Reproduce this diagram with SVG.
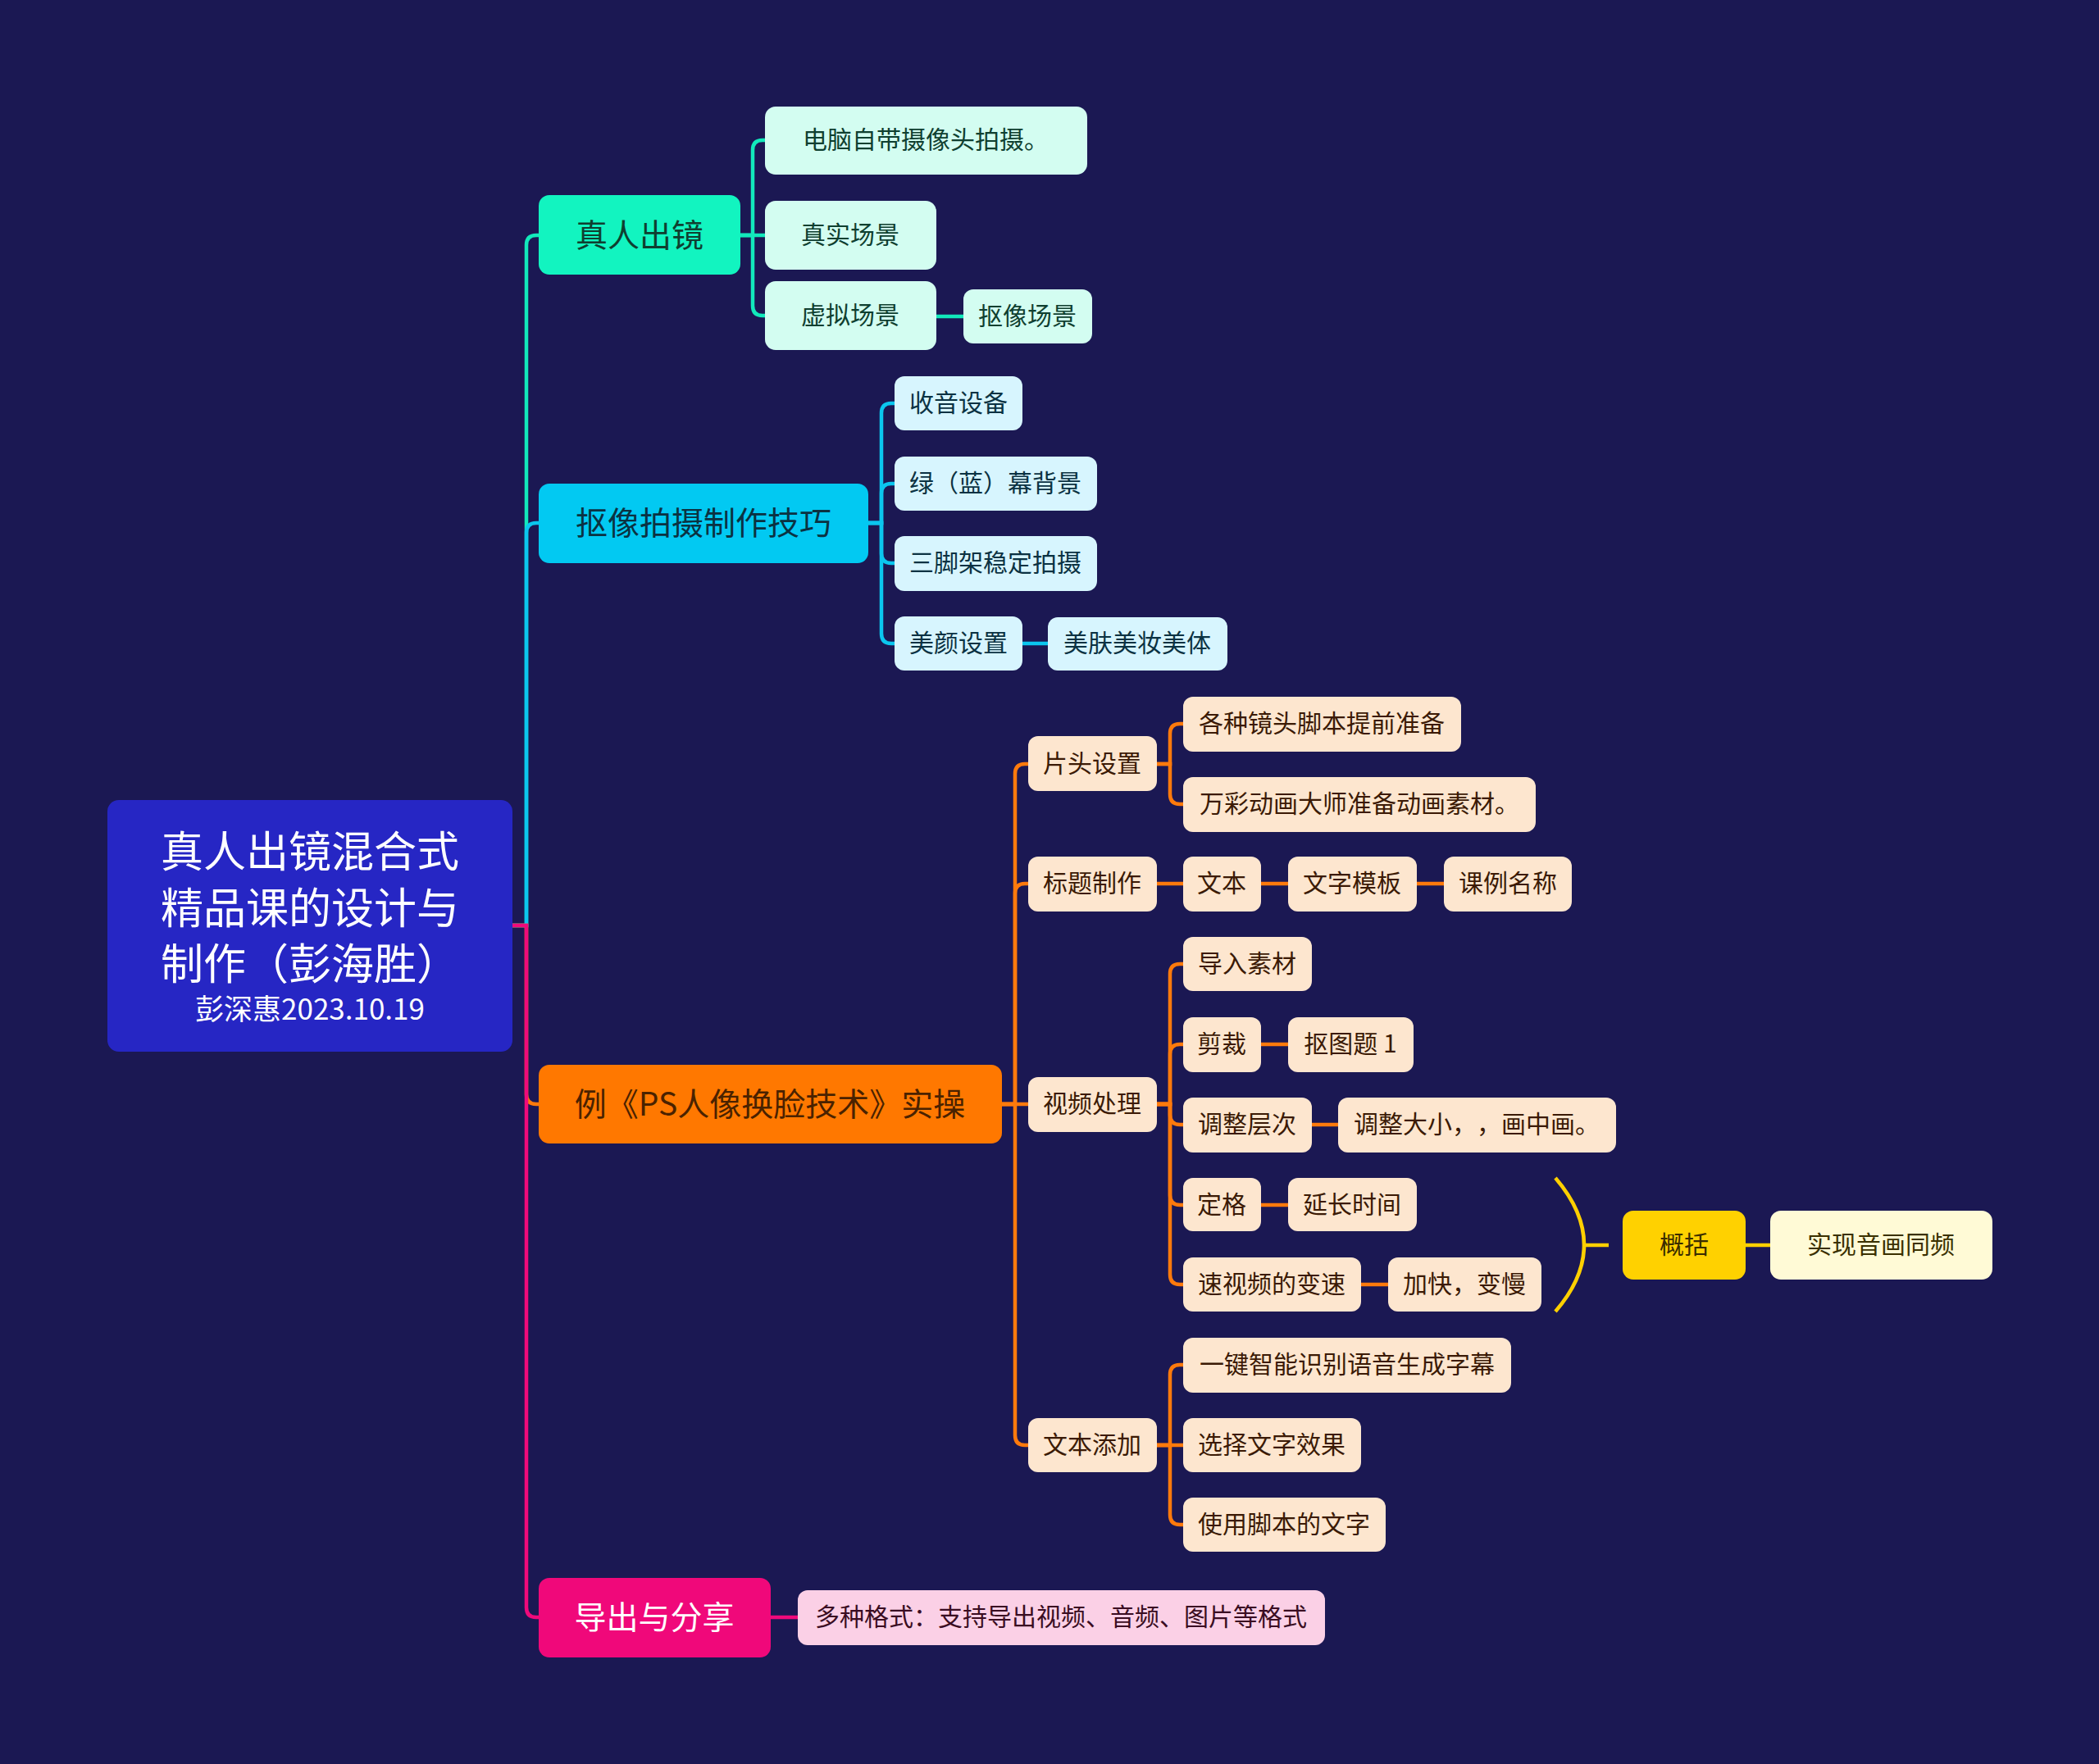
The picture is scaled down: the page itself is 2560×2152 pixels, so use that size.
<svg xmlns="http://www.w3.org/2000/svg" width="2560" height="2152" viewBox="0 0 2560 2152">
<style>
text{font-family:"Noto Sans CJK SC","Noto Sans",sans-serif;text-anchor:middle;dominant-baseline:central;text-spacing-trim:space-all;transform:translateY(-3px)}
.l1{font-size:39px}
.l2{font-size:30px}
.c{fill:none;stroke-width:4.5;stroke-linecap:butt}
.teal{stroke:#12e9bb}.cyan{stroke:#0bc6ee}.orange{stroke:#ff7a0c}.pink{stroke:#ef0a7b}.yellow{stroke:#ffd000}
.fT{fill:#12f4c0}.fC{fill:#02c9f2}.fO{fill:#ff7800}.fP{fill:#f0087a}
.cT{fill:#d3fdf1}.cC{fill:#d7f5fe}.cO{fill:#fde6cf}.cP{fill:#fbd0e6}
.tT{fill:#0f3f30}.tC{fill:#0b3242}.tO{fill:#3b1a05}.tP{fill:#3a0d22}
</style>
<rect width="2560" height="2152" fill="#1b1853"/>
<g id="connectors">
<path class="c teal" d="M625 1129 H642 V299 Q642 287 654 287 H657"/>
<path class="c cyan" d="M625 1129 H642 V650 Q642 638 654 638 H657"/>
<path class="c orange" d="M625 1129 H642 V1335 Q642 1347 654 1347 H657"/>
<path class="c pink" d="M625 1129 H642 V1961 Q642 1973 654 1973 H657"/>
<path class="c teal" d="M903 287 H918 V183 Q918 171 930 171 H933"/>
<path class="c teal" d="M903 287 H933"/>
<path class="c teal" d="M903 287 H918 V373 Q918 385 930 385 H933"/>
<path class="c teal" d="M1142 386 H1175"/>
<path class="c cyan" d="M1059 638 H1075 V504 Q1075 492 1087 492 H1091"/>
<path class="c cyan" d="M1059 638 H1075 V602 Q1075 590 1087 590 H1091"/>
<path class="c cyan" d="M1059 638 H1075 V675 Q1075 687 1087 687 H1091"/>
<path class="c cyan" d="M1059 638 H1075 V773 Q1075 785 1087 785 H1091"/>
<path class="c cyan" d="M1247 785 H1278"/>
<path class="c orange" d="M1222 1347 H1238 V944 Q1238 932 1250 932 H1254"/>
<path class="c orange" d="M1222 1347 H1238 V1090 Q1238 1078 1250 1078 H1254"/>
<path class="c orange" d="M1222 1347 H1254"/>
<path class="c orange" d="M1222 1347 H1238 V1751 Q1238 1763 1250 1763 H1254"/>
<path class="c orange" d="M1411 932 H1427 V895 Q1427 883 1439 883 H1443"/>
<path class="c orange" d="M1411 932 H1427 V969 Q1427 981 1439 981 H1443"/>
<path class="c orange" d="M1411 1078 H1443"/>
<path class="c orange" d="M1538 1078 H1571"/>
<path class="c orange" d="M1728 1078 H1761"/>
<path class="c orange" d="M1411 1347 H1427 V1188 Q1427 1176 1439 1176 H1443"/>
<path class="c orange" d="M1411 1347 H1427 V1286 Q1427 1274 1439 1274 H1443"/>
<path class="c orange" d="M1411 1347 H1427 V1360 Q1427 1372 1439 1372 H1443"/>
<path class="c orange" d="M1411 1347 H1427 V1458 Q1427 1470 1439 1470 H1443"/>
<path class="c orange" d="M1411 1347 H1427 V1555 Q1427 1567 1439 1567 H1443"/>
<path class="c orange" d="M1538 1274 H1571"/>
<path class="c orange" d="M1600 1372 H1632"/>
<path class="c orange" d="M1538 1470 H1571"/>
<path class="c orange" d="M1660 1567 H1693"/>
<path class="c orange" d="M1411 1763 H1427 V1677 Q1427 1665 1439 1665 H1443"/>
<path class="c orange" d="M1411 1763 H1443"/>
<path class="c orange" d="M1411 1763 H1427 V1848 Q1427 1860 1439 1860 H1443"/>
<path class="c pink" d="M940 1973 H973"/>
<path class="c yellow" d="M1897 1437 Q1967 1519 1897 1600"/>
<path class="c yellow" d="M1932 1519 H1962"/>
<path class="c yellow" d="M2129 1519 H2159"/>
</g>
<g id="root">
<rect x="131" y="976" width="494" height="307" rx="14" fill="#2626c4"/>
<text x="378" y="1038" font-size="52" fill="#ffffff">真人出镜混合式</text>
<text x="378" y="1107" font-size="52" fill="#ffffff">精品课的设计与</text>
<text x="378" y="1175" font-size="52" fill="#ffffff">制作（彭海胜）</text>
<text x="378" y="1231" font-size="35" fill="#ffffff">彭深惠2023.10.19</text>
</g>
<g id="n1"><rect class="fT" x="657" y="238" width="246" height="97" rx="13"/><text class="l1 tT" x="780" y="287">真人出镜</text></g>
<g id="n2"><rect class="fC" x="657" y="590" width="402" height="97" rx="13"/><text class="l1 tC" x="858" y="638">抠像拍摄制作技巧</text></g>
<g id="n3"><rect class="fO" x="657" y="1299" width="565" height="96" rx="13"/><text class="l1" fill="#4a2200" x="939" y="1347">例《PS人像换脸技术》实操</text></g>
<g id="n4"><rect class="fP" x="657" y="1925" width="283" height="97" rx="13"/><text class="l1" fill="#ffffff" x="798" y="1973">导出与分享</text></g>
<g id="n1a"><rect class="cT" x="933" y="130" width="393" height="83" rx="13"/><text class="l2 tT" x="1129" y="171">电脑自带摄像头拍摄。</text></g>
<g id="n1b"><rect class="cT" x="933" y="245" width="209" height="84" rx="13"/><text class="l2 tT" x="1037" y="287">真实场景</text></g>
<g id="n1c"><rect class="cT" x="933" y="343" width="209" height="84" rx="13"/><text class="l2 tT" x="1037" y="385">虚拟场景</text></g>
<g id="n1c1"><rect class="cT" x="1175" y="353" width="157" height="66" rx="12"/><text class="l2 tT" x="1253" y="386">抠像场景</text></g>
<g id="n2a"><rect class="cC" x="1091" y="459" width="156" height="66" rx="12"/><text class="l2 tC" x="1169" y="492">收音设备</text></g>
<g id="n2b"><rect class="cC" x="1091" y="557" width="247" height="66" rx="12"/><text class="l2 tC" x="1214" y="590">绿（蓝）幕背景</text></g>
<g id="n2c"><rect class="cC" x="1091" y="654" width="247" height="67" rx="12"/><text class="l2 tC" x="1214" y="687">三脚架稳定拍摄</text></g>
<g id="n2d"><rect class="cC" x="1091" y="752" width="156" height="66" rx="12"/><text class="l2 tC" x="1169" y="785">美颜设置</text></g>
<g id="n2d1"><rect class="cC" x="1278" y="753" width="219" height="65" rx="12"/><text class="l2 tC" x="1387" y="785">美肤美妆美体</text></g>
<g id="n3a"><rect class="cO" x="1254" y="898" width="157" height="67" rx="12"/><text class="l2 tO" x="1332" y="932">片头设置</text></g>
<g id="n3b"><rect class="cO" x="1254" y="1045" width="157" height="67" rx="12"/><text class="l2 tO" x="1332" y="1078">标题制作</text></g>
<g id="n3c"><rect class="cO" x="1254" y="1314" width="157" height="67" rx="12"/><text class="l2 tO" x="1332" y="1347">视频处理</text></g>
<g id="n3d"><rect class="cO" x="1254" y="1730" width="157" height="66" rx="12"/><text class="l2 tO" x="1332" y="1763">文本添加</text></g>
<g id="n3a1"><rect class="cO" x="1443" y="850" width="339" height="67" rx="12"/><text class="l2 tO" x="1612" y="883">各种镜头脚本提前准备</text></g>
<g id="n3a2"><rect class="cO" x="1443" y="948" width="430" height="67" rx="12"/><text class="l2 tO" x="1658" y="981">万彩动画大师准备动画素材。</text></g>
<g id="n3b1"><rect class="cO" x="1443" y="1045" width="95" height="67" rx="12"/><text class="l2 tO" x="1490" y="1078">文本</text></g>
<g id="n3b2"><rect class="cO" x="1571" y="1045" width="157" height="67" rx="12"/><text class="l2 tO" x="1649" y="1078">文字模板</text></g>
<g id="n3b3"><rect class="cO" x="1761" y="1045" width="156" height="67" rx="12"/><text class="l2 tO" x="1839" y="1078">课例名称</text></g>
<g id="n3c1"><rect class="cO" x="1443" y="1143" width="157" height="66" rx="12"/><text class="l2 tO" x="1521" y="1176">导入素材</text></g>
<g id="n3c2"><rect class="cO" x="1443" y="1241" width="95" height="67" rx="12"/><text class="l2 tO" x="1490" y="1274">剪裁</text></g>
<g id="n3c2a"><rect class="cO" x="1571" y="1241" width="153" height="67" rx="12"/><text class="l2 tO" x="1647" y="1274">抠图题 1</text></g>
<g id="n3c3"><rect class="cO" x="1443" y="1339" width="157" height="67" rx="12"/><text class="l2 tO" x="1521" y="1372">调整层次</text></g>
<g id="n3c3a"><rect class="cO" x="1632" y="1339" width="339" height="67" rx="12"/><text class="l2 tO" x="1801" y="1372">调整大小，，画中画。</text></g>
<g id="n3c4"><rect class="cO" x="1443" y="1437" width="95" height="65" rx="12"/><text class="l2 tO" x="1490" y="1470">定格</text></g>
<g id="n3c4a"><rect class="cO" x="1571" y="1437" width="157" height="65" rx="12"/><text class="l2 tO" x="1649" y="1470">延长时间</text></g>
<g id="n3c5"><rect class="cO" x="1443" y="1534" width="217" height="66" rx="12"/><text class="l2 tO" x="1551" y="1567">速视频的变速</text></g>
<g id="n3c5a"><rect class="cO" x="1693" y="1534" width="187" height="66" rx="12"/><text class="l2 tO" x="1786" y="1567">加快，变慢</text></g>
<g id="n3d1"><rect class="cO" x="1443" y="1632" width="400" height="67" rx="12"/><text class="l2 tO" x="1643" y="1665">一键智能识别语音生成字幕</text></g>
<g id="n3d2"><rect class="cO" x="1443" y="1730" width="217" height="66" rx="12"/><text class="l2 tO" x="1551" y="1763">选择文字效果</text></g>
<g id="n3d3"><rect class="cO" x="1443" y="1827" width="247" height="66" rx="12"/><text class="l2 tO" x="1566" y="1860">使用脚本的文字</text></g>
<g id="n4a"><rect class="cP" x="973" y="1940" width="643" height="67" rx="12"/><text class="l2 tP" x="1294" y="1973">多种格式：支持导出视频、音频、图片等格式</text></g>
<g id="summary"><rect fill="#ffd100" x="1979" y="1477" width="150" height="84" rx="13"/><text class="l2" fill="#3a2c00" x="2054" y="1519">概括</text></g>
<g id="summary1"><rect fill="#fffad6" x="2159" y="1477" width="271" height="84" rx="13"/><text class="l2" fill="#3a3000" x="2294" y="1519">实现音画同频</text></g>
</svg>
